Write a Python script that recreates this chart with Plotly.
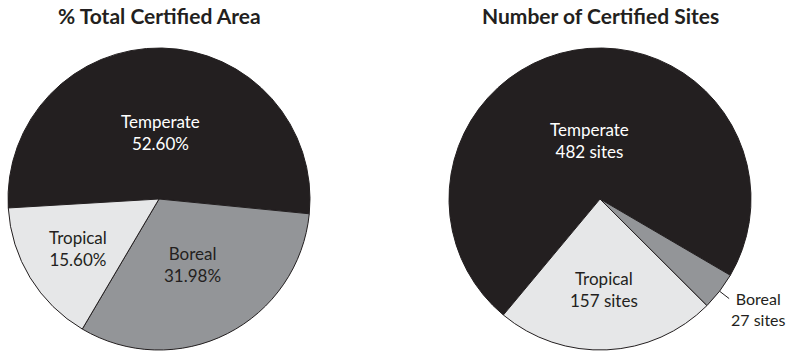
import math
import plotly.graph_objects as go

# ---- data ----
labels = ["Temperate", "Boreal", "Tropical"]
area_pct = [52.60, 31.98, 15.60]
area_text = ["52.60%", "31.98%", "15.60%"]
site_counts = [482, 27, 157]
site_text = ["482 sites", "27 sites", "157 sites"]
titles = ["% Total Certified Area", "Number of Certified Sites"]

# ---- styles ----
W, H = 789, 352
FONT = "Lato"
slice_colors = ["#231f20", "#939598", "#e6e7e8"]
label_colors = ["#ffffff", "#231f20", "#231f20"]
outline = "#231f20"
R = 151
pies = [
    dict(values=area_pct, texts=area_text, cx=159, cy=199, rot=-93.4,
         frac=[0.44, 0.49, 0.63], outside=[False, False, False]),
    dict(values=site_counts, texts=site_text, cx=600, cy=199, rot=-140.2,
         frac=[0.39, 1.0, 0.60], outside=[False, True, False]),
]

fig = go.Figure()
annotations = []
shapes = []


def mid_angle(values, rot, i):
    tot = sum(values)
    return rot + 360.0 * (sum(values[:i]) + values[i] / 2.0) / tot


def pt(cx, cy, r, ang):
    a = math.radians(ang)
    return cx + r * math.sin(a), cy - r * math.cos(a)


for k, p in enumerate(pies):
    fig.add_trace(go.Pie(
        labels=labels, values=p["values"], sort=False, direction="clockwise",
        rotation=p["rot"], textinfo="none", showlegend=False,
        marker=dict(colors=slice_colors, line=dict(color=outline, width=1)),
        domain=dict(x=[(p["cx"] - R) / W, (p["cx"] + R) / W],
                    y=[1 - (p["cy"] + R) / H, 1 - (p["cy"] - R) / H]),
    ))
    annotations.append(dict(
        text="<b>" + titles[k] + "</b>", x=p["cx"] / W, y=1 - 16 / H,
        xref="paper", yref="paper", xanchor="center", yanchor="middle",
        showarrow=False, font=dict(family=FONT, size=21, color="#231f20")))
    for i, lab in enumerate(labels):
        ang = mid_angle(p["values"], p["rot"], i)
        if not p["outside"][i]:
            x, y = pt(p["cx"], p["cy"], R * p["frac"][i], ang)
            annotations.append(dict(
                text=lab + "<br>" + p["texts"][i], x=x / W, y=1 - y / H,
                xref="paper", yref="paper", xanchor="center", yanchor="middle",
                showarrow=False, align="center",
                font=dict(family=FONT, size=17, color=label_colors[i])))
        else:
            x0, y0 = pt(p["cx"], p["cy"], R, ang)
            x1, y1 = pt(p["cx"], p["cy"], R * 1.08, ang)
            shapes.append(dict(type="line", xref="paper", yref="paper",
                               x0=x0 / W, y0=1 - y0 / H, x1=x1 / W, y1=1 - y1 / H,
                               line=dict(color=outline, width=1)))
            annotations.append(dict(
                text=lab + "<br>" + p["texts"][i], x=(W - 1) / W, y=1 - (y1 - 12) / H,
                xref="paper", yref="paper", xanchor="right", yanchor="top",
                showarrow=False, align="center",
                font=dict(family=FONT, size=16, color="#231f20")))

fig.update_layout(
    width=W, height=H, margin=dict(l=0, r=0, t=0, b=0),
    paper_bgcolor="white", plot_bgcolor="white",
    annotations=annotations, shapes=shapes,
)
fig.write_html("out.html")
